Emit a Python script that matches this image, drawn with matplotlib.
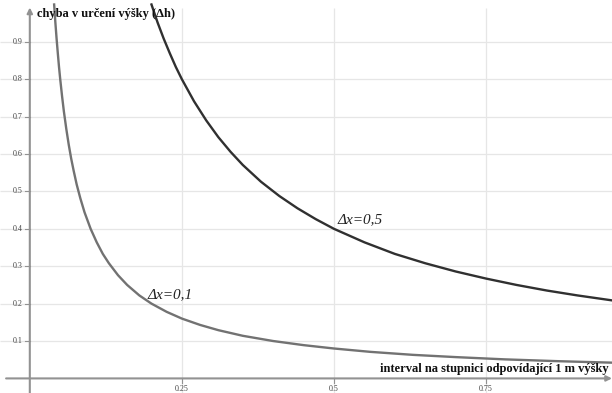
import matplotlib
matplotlib.use('Agg')
import matplotlib.pyplot as plt

# values
x_05 = [0.20, 0.21, 0.22, 0.23, 0.24, 0.25, 0.27, 0.29, 0.31, 0.33, 0.35, 0.38, 0.41,
        0.44, 0.47, 0.50, 0.55, 0.60, 0.65, 0.70, 0.75, 0.80, 0.85, 0.90, 0.96]
y_05 = [1.00, 0.952, 0.909, 0.870, 0.833, 0.80, 0.741, 0.690, 0.645, 0.606, 0.571, 0.526, 0.488,
        0.455, 0.426, 0.40, 0.364, 0.333, 0.308, 0.286, 0.267, 0.25, 0.235, 0.222, 0.208]

x_01 = [0.040, 0.042, 0.044, 0.046, 0.048, 0.050, 0.053, 0.056, 0.060, 0.064, 0.068, 0.072,
        0.077, 0.083, 0.090, 0.10, 0.11, 0.12, 0.13, 0.145, 0.16, 0.18, 0.20, 0.225, 0.25,
        0.28, 0.31, 0.35, 0.40, 0.45, 0.50, 0.56, 0.63, 0.70, 0.78, 0.87, 0.96]
y_01 = [1.0, 0.952, 0.909, 0.870, 0.833, 0.80, 0.755, 0.714, 0.667, 0.625, 0.588, 0.556,
        0.519, 0.482, 0.444, 0.40, 0.364, 0.333, 0.308, 0.276, 0.25, 0.222, 0.20, 0.178, 0.16,
        0.143, 0.129, 0.114, 0.10, 0.089, 0.08, 0.071, 0.063, 0.057, 0.051, 0.046, 0.042]

xticks = [0.25, 0.5, 0.75]
xtick_labels = ['0.25', '0.5', '0.75']
yticks = [0.1, 0.2, 0.3, 0.4, 0.5, 0.6, 0.7, 0.8, 0.9]
ytick_labels = ['0.1', '0.2', '0.3', '0.4', '0.5', '0.6', '0.7', '0.8', '0.9']

serif = ['Liberation Serif', 'DejaVu Serif']

fig = plt.figure(figsize=(6.12, 3.93), dpi=100)
ax = fig.add_axes([0, 0, 1, 1])
x0, x1 = -0.049, 0.957
y0, y1 = -0.039, 1.012
ax.set_xlim(x0, x1)
ax.set_ylim(y0, y1)
ax.axis('off')

# grid
ax.vlines(xticks, y0, 0.99, color='#e6e6e6', lw=0.9, zorder=0)
ax.hlines(yticks, x0, x1, color='#e6e6e6', lw=0.9, zorder=0)

# axes with arrows
ax.annotate('', xy=(x1, 0), xytext=(-0.039, 0),
            arrowprops=dict(arrowstyle='-|>', color='#929292', lw=1.5,
                            mutation_scale=8, shrinkA=0, shrinkB=0), zorder=2)
ax.annotate('', xy=(0, 0.992), xytext=(0, y0),
            arrowprops=dict(arrowstyle='-|>', color='#929292', lw=1.5,
                            mutation_scale=8, shrinkA=0, shrinkB=0), zorder=2)

# ticks and labels
for t, lab in zip(xticks, xtick_labels):
    ax.plot([t, t], [0, -0.012], color='#929292', lw=0.8)
    ax.text(t, -0.018, lab, ha='center', va='top', fontsize=5.8,
            family=serif, color='#444444')
for t, lab in zip(yticks, ytick_labels):
    ax.plot([-0.008, 0], [t, t], color='#929292', lw=0.8)
    ax.text(-0.012, t, lab, ha='right', va='center', fontsize=5.8,
            family=serif, color='#444444')

# curves
ax.plot(x_05, y_05, color='#303030', lw=1.7, zorder=3)
ax.plot(x_01, y_01, color='#727272', lw=1.7, zorder=3)

ax.text(0.506, 0.425, '\u0394x=0,5', fontsize=11, style='italic', family=serif,
        color='#222222', ha='left', va='center')
ax.text(0.194, 0.225, '\u0394x=0,1', fontsize=11, style='italic', family=serif,
        color='#222222', ha='left', va='center')

ax.text(0.012, 0.975, 'chyba v ur\u010den\u00ed v\u00fd\u0161ky (\u0394h)', fontsize=9,
        fontweight='bold', family=serif, color='#111111', ha='left', va='center')
ax.text(0.952, 0.024, 'interval na stupnici odpov\u00eddaj\u00edc\u00ed 1 m v\u00fd\u0161ky',
        fontsize=9, fontweight='bold', family=serif, color='#111111',
        ha='right', va='center')

fig.savefig('out.png', dpi=100)
